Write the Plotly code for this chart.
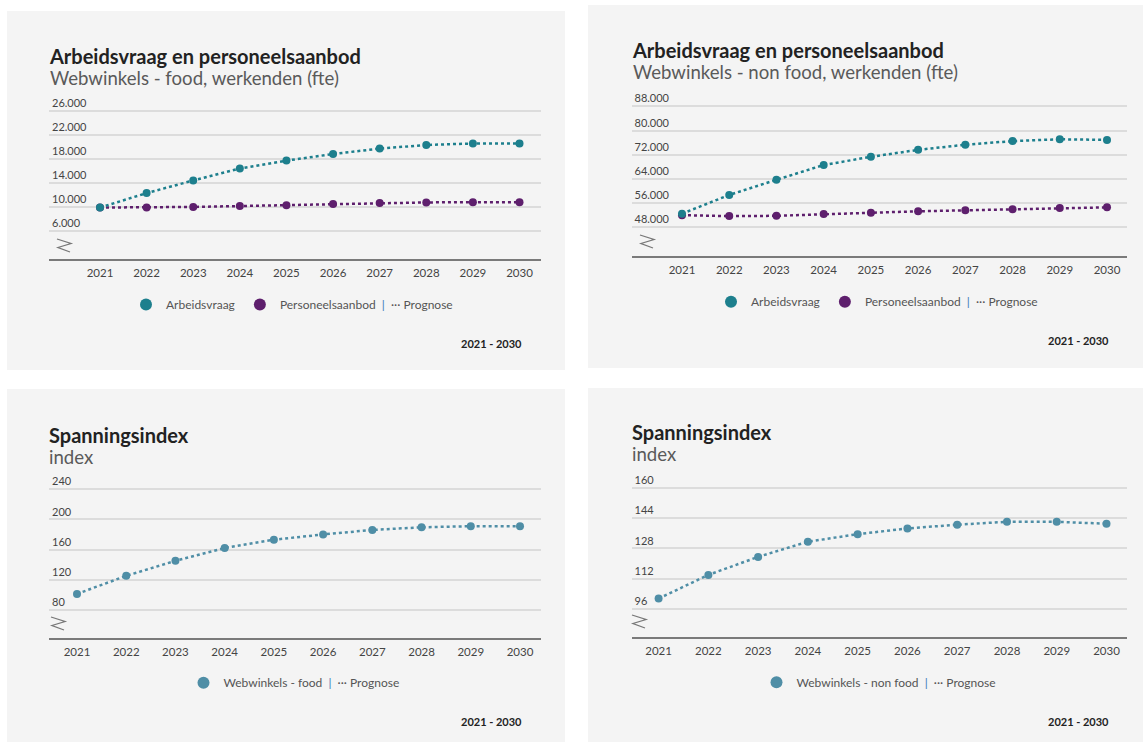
import plotly.graph_objects as go

# ---- data -------------------------------------------------------------
years = [2021, 2022, 2023, 2024, 2025, 2026, 2027, 2028, 2029, 2030]
year_labels = [str(y) for y in years]

# Webwinkels - food, werkenden (fte)
food_vraag = [9900, 12300, 14400, 16400, 17700, 18800, 19700, 20300, 20550, 20550]
food_aanbod = [9900, 9900, 10000, 10150, 10300, 10500, 10650, 10750, 10800, 10800]

# Webwinkels - non food, werkenden (fte)
nonfood_vraag = [52500, 58700, 63700, 68600, 71300, 73600, 75300, 76500, 77100, 76900]
nonfood_aanbod = [52000, 51700, 51800, 52400, 52800, 53300, 53600, 53950, 54400, 54600]

# Spanningsindex
index_food = [101, 125, 145, 162, 173, 180, 186, 189.5, 191, 191]
index_nonfood = [101.5, 114, 123.5, 131.5, 135.5, 138.5, 140.5, 142, 142, 141]

ticks_food = [6000, 10000, 14000, 18000, 22000, 26000]
ticks_nonfood = [48000, 56000, 64000, 72000, 80000, 88000]
ticks_index_food = [80, 120, 160, 200, 240]
ticks_index_nonfood = [96, 112, 128, 144, 160]

# ---- styling ------------------------------------------------------------
W, H = 1145, 742
FONT = "Lato"
TEAL = "#1d7f8d"
PURPLE = "#5e1f6d"
STEEL = "#4f8ea6"
SEP = '<span style="color:#3b78b8">|</span>'


def px(x):
    return x / W


def py(y):
    return 1 - y / H


# pixel geometry of each panel
panels = [
    dict(bg=(7, 11, 565, 370), xl=49, xr=540.7, x0=100, x9=519.5,
         top=110.7, bot=231, axis=259, ticks=ticks_food,
         title="Arbeidsvraag en personeelsaanbod",
         sub="Webwinkels - food, werkenden (fte)",
         ty=55.5, sy=76.5, leg_x=292, leg_y=304.5, foot_x=523.6, foot_y=343.3,
         zig=(57, 239)),
    dict(bg=(588, 5, 1143, 368), xl=631.5, xr=1127, x0=682, x9=1107,
         top=106.3, bot=227.3, axis=256, ticks=ticks_nonfood,
         title="Arbeidsvraag en personeelsaanbod",
         sub="Webwinkels - non food, werkenden (fte)",
         ty=50.5, sy=71, leg_x=877, leg_y=301.7, foot_x=1110.5, foot_y=340.7,
         zig=(640, 235)),
    dict(bg=(7, 389, 565, 742), xl=49, xr=540.7, x0=77, x9=520,
         top=489.3, bot=609.7, axis=637.7, ticks=ticks_index_food,
         title="Spanningsindex", sub="index",
         ty=434.5, sy=455.5, leg_x=294, leg_y=682.7, foot_x=523.6, foot_y=721.7,
         zig=(51, 617)),
    dict(bg=(588, 388, 1143, 742), xl=631.5, xr=1127, x0=658.6, x9=1106.5,
         top=487.7, bot=609, axis=637.3, ticks=ticks_index_nonfood,
         title="Spanningsindex", sub="index",
         ty=432.5, sy=453, leg_x=879, leg_y=682.3, foot_x=1110.5, foot_y=721.7,
         zig=(632, 615)),
]

series = [
    [("Personeelsaanbod", food_aanbod, PURPLE), ("Arbeidsvraag", food_vraag, TEAL)],
    [("Personeelsaanbod", nonfood_aanbod, PURPLE), ("Arbeidsvraag", nonfood_vraag, TEAL)],
    [("Webwinkels - food", index_food, STEEL)],
    [("Webwinkels - non food", index_nonfood, STEEL)],
]

legend_items = [
    [("Arbeidsvraag", TEAL), ("Personeelsaanbod  " + SEP + "  ··· Prognose", PURPLE)],
    [("Arbeidsvraag", TEAL), ("Personeelsaanbod  " + SEP + "  ··· Prognose", PURPLE)],
    [("Webwinkels - food  " + SEP + "  ··· Prognose", STEEL)],
    [("Webwinkels - non food  " + SEP + "  ··· Prognose", STEEL)],
]

fig = go.Figure()
shapes = []
annotations = []
layout_axes = {}

for i, p in enumerate(panels):
    n = "" if i == 0 else str(i + 1)
    xa, ya = "x" + n, "y" + n
    leg = "legend" + n

    # x scale: pixel positions of first and last year
    kx = (p["x9"] - p["x0"]) / (years[-1] - years[0])
    xrange = [years[0] - (p["x0"] - p["xl"]) / kx, years[-1] + (p["xr"] - p["x9"]) / kx]

    # y scale: pixel positions of lowest and highest gridline
    t = p["ticks"]
    ky = (p["bot"] - p["top"]) / (t[-1] - t[0])
    dom_top = p["top"] - 3
    yrange = [t[0] - (p["axis"] - p["bot"]) / ky, t[-1] + 3 / ky]

    layout_axes["xaxis" + n] = dict(
        domain=[px(p["xl"]), px(p["xr"])], range=xrange, anchor=ya,
        tickmode="array", tickvals=years, ticktext=year_labels,
        showgrid=False, zeroline=False, showline=True, linecolor="#7a7a7a",
        linewidth=2, ticks="", tickfont=dict(size=11.5, color="#444", family=FONT),
        ticklabelstandoff=2, automargin=False, fixedrange=True,
    )
    layout_axes["yaxis" + n] = dict(
        domain=[py(p["axis"]), py(dom_top)], range=yrange, anchor=xa,
        tickmode="array", tickvals=t, tickformat=",d",
        ticklabelposition="inside top", ticklabeloverflow="allow",
        showgrid=True, gridcolor="#dcdcdc", gridwidth=1.5,
        zeroline=False, showline=False, ticks="", automargin=False,
        tickfont=dict(size=11, color="#444", family=FONT), fixedrange=True,
    )

    for name, vals, col in series[i]:
        fig.add_trace(go.Scatter(
            x=years, y=vals, mode="lines+markers", name=name,
            line=dict(color=col, width=2.5, dash="dot"),
            marker=dict(color=col, size=8),
            xaxis=xa, yaxis=ya, showlegend=False,
        ))

    for name, col in legend_items[i]:
        fig.add_trace(go.Scatter(
            x=[None], y=[None], mode="markers", name=name,
            marker=dict(color=col, size=12),
            xaxis=xa, yaxis=ya, legend=leg, showlegend=True,
        ))

    layout_axes[leg] = dict(
        orientation="h", x=px(p["leg_x"]), y=py(p["leg_y"]),
        xanchor="center", yanchor="middle", bgcolor="rgba(0,0,0,0)",
        font=dict(size=12, color="#555", family=FONT), itemwidth=30,
        itemclick=False, itemdoubleclick=False,
    )

    # panel background
    x0, y0, x1, y1 = p["bg"]
    shapes.append(dict(type="rect", xref="paper", yref="paper",
                       x0=px(x0), x1=px(x1), y0=py(y1), y1=py(y0),
                       fillcolor="#f4f4f4", line=dict(width=0), layer="below"))

    # axis break marker
    zx, zy = p["zig"]
    pts = [(zx, zy), (zx + 14, zy + 4.5), (zx + 1, zy + 8.5), (zx + 13, zy + 13)]
    path = "M " + " L ".join(f"{px(a):.5f},{py(b):.5f}" for a, b in pts)
    shapes.append(dict(type="path", xref="paper", yref="paper", path=path,
                       line=dict(color="#777", width=1.3)))

    # title block: bold heading with the unit line underneath
    line_gap = p["sy"] - p["ty"]
    heading = (f'<span style="font-size:20px;color:#222"><b>{p["title"]}</b></span><br>'
               f'<span style="font-size:18.6px;color:#5a5a5a">{p["sub"]}</span>')
    annotations += [
        dict(text=heading, x=px(p["xl"] - 2), y=py((p["ty"] + p["sy"]) / 2),
             xref="paper", yref="paper", xanchor="left", yanchor="middle",
             align="left", showarrow=False,
             font=dict(size=line_gap / 1.3, color="#222", family=FONT)),
        dict(text="<b>2021 - 2030</b>", x=px(p["foot_x"]), y=py(p["foot_y"]),
             xref="paper", yref="paper", xanchor="right", yanchor="middle",
             showarrow=False, font=dict(size=11, color="#222", family=FONT)),
    ]

fig.update_layout(
    width=W, height=H, margin=dict(l=0, r=0, t=0, b=0, autoexpand=False),
    paper_bgcolor="white", plot_bgcolor="rgba(0,0,0,0)",
    separators=",.", font=dict(family=FONT),
    shapes=shapes, annotations=annotations, hovermode=False,
    **layout_axes,
)

fig.write_html("out.html")
